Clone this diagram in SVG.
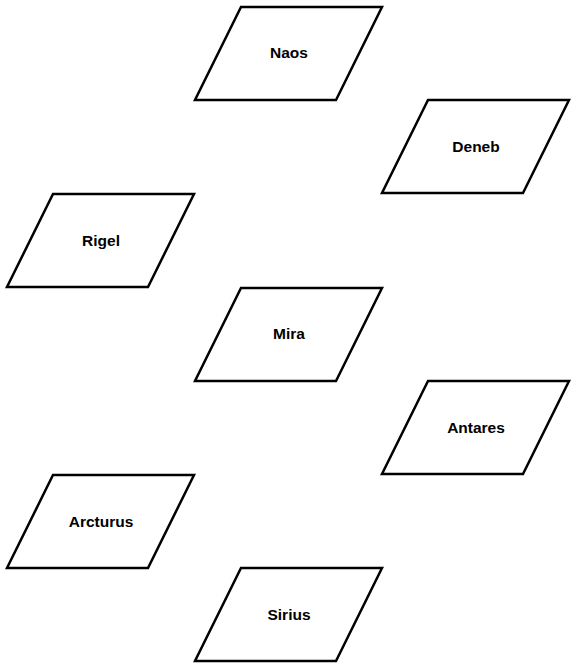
<svg xmlns="http://www.w3.org/2000/svg" width="576" height="669" viewBox="0 0 576 669">
<style>
.s{fill:#fff;stroke:#000;stroke-width:2.5;stroke-linejoin:miter}
.t{font-family:"Liberation Sans",Arial,sans-serif;font-weight:bold;font-size:15.5px;text-anchor:middle;dominant-baseline:central;fill:#000}
</style>
<defs><path id="p" d="M46,0 H187 L141,93 H0 Z"/></defs>
<rect width="576" height="669" fill="#fff"/>
<g id="connectors"></g>
<g id="naos"><use href="#p" class="s" x="195" y="7"/><text class="t" x="289" y="52">Naos</text></g>
<g id="deneb"><use href="#p" class="s" x="382" y="100"/><text class="t" x="476" y="146">Deneb</text></g>
<g id="rigel"><use href="#p" class="s" x="7" y="194"/><text class="t" x="101" y="240">Rigel</text></g>
<g id="mira"><use href="#p" class="s" x="195" y="288"/><text class="t" x="289" y="333">Mira</text></g>
<g id="antares"><use href="#p" class="s" x="382" y="381"/><text class="t" x="476" y="427">Antares</text></g>
<g id="arcturus"><use href="#p" class="s" x="7" y="475"/><text class="t" x="101" y="521">Arcturus</text></g>
<g id="sirius"><use href="#p" class="s" x="195" y="568"/><text class="t" x="289" y="614">Sirius</text></g>
</svg>
